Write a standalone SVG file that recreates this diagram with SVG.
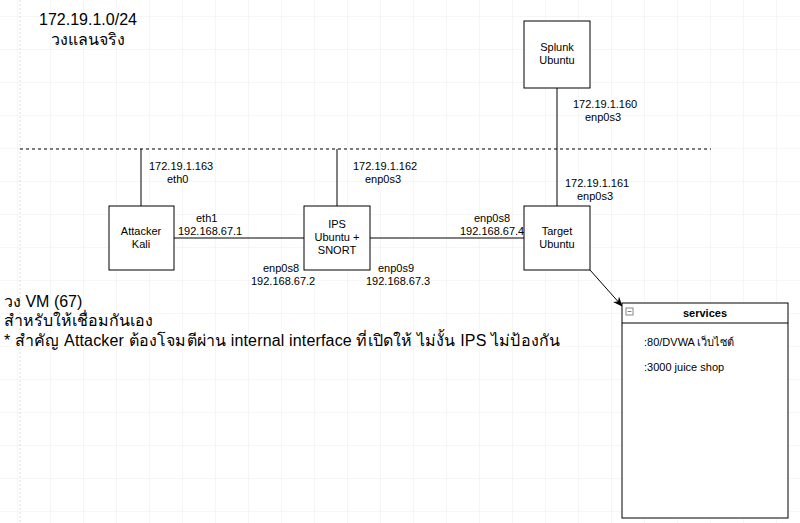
<svg xmlns="http://www.w3.org/2000/svg" width="800" height="523" viewBox="0 0 800 523">
<defs>
<pattern id="g" width="33" height="33" patternUnits="userSpaceOnUse" x="18" y="17">
<path d="M33 0V33M0 33H33" fill="none" stroke="#ececec" stroke-width="1"/>
</pattern>
<marker id="a" markerWidth="10" markerHeight="10" refX="9" refY="5" orient="auto" markerUnits="userSpaceOnUse">
<path d="M0 1L10 5L0 9L3 5Z" fill="#000"/>
</marker>
</defs>
<style>
.n{fill:#fff;stroke:#000;stroke-width:1}
.t{font-family:"Liberation Sans","DejaVu Sans","Noto Sans",sans-serif;font-size:11px;fill:#000}
.c{text-anchor:middle}
.b{font-family:"Liberation Sans","DejaVu Sans","Noto Sans",sans-serif;font-size:16px;fill:#000}
.l{stroke:#000;stroke-width:1;fill:none}
</style>
<rect width="800" height="523" fill="#fff"/>
<rect width="800" height="523" fill="url(#g)"/>
<line x1="20" y1="0" x2="20" y2="523" stroke="#ddd" stroke-dasharray="2 2"/>
<line x1="20" y1="149" x2="711" y2="149" stroke="#000" stroke-dasharray="3 3"/>
<text class="b c" x="88" y="25">172.19.1.0/24</text>
<text class="b c" x="88" y="45">วงแลนจริง</text>
<text class="b" x="4" y="307">วง VM (67)</text>
<text class="b" x="4" y="326">สำหรับให้เชื่อมกันเอง</text>
<text class="b" x="4" y="346" textLength="556">* สำคัญ Attacker ต้องโจมตีผ่าน internal interface ที่เปิดให้ ไม่งั้น IPS ไม่ป้องกัน</text>
<g id="connectors">
<line class="l" x1="141" y1="149" x2="141" y2="206"/>
<line class="l" x1="337" y1="149" x2="337" y2="206"/>
<line class="l" x1="557" y1="88" x2="557" y2="206"/>
<line class="l" x1="174" y1="238" x2="304" y2="238"/>
<line class="l" x1="370" y1="238" x2="524" y2="238"/>
<line class="l" x1="590" y1="270" x2="622" y2="306" marker-end="url(#a)"/>
</g>
<g class="t">
<text x="149" y="170">172.19.1.163</text><text x="167" y="183">eth0</text>
<text x="353" y="170">172.19.1.162</text><text x="365" y="183">enp0s3</text>
<text x="573" y="108">172.19.1.160</text><text x="585" y="121">enp0s3</text>
<text x="565" y="187">172.19.1.161</text><text x="577" y="200">enp0s3</text>
<text x="196" y="222">eth1</text><text x="178" y="235">192.168.67.1</text>
<text x="474" y="222">enp0s8</text><text x="460" y="235">192.168.67.4</text>
<text x="263" y="272">enp0s8</text><text x="251" y="285">192.168.67.2</text>
<text x="378" y="272">enp0s9</text><text x="366" y="285">192.168.67.3</text>
</g>
<g id="attacker"><rect class="n" x="109" y="206" width="65" height="64"/>
<text class="t c" x="141" y="235">Attacker</text><text class="t c" x="141" y="248">Kali</text></g>
<g id="ips"><rect class="n" x="304" y="206" width="66" height="64"/>
<text class="t c" x="337" y="228">IPS</text><text class="t c" x="337" y="241">Ubuntu +</text><text class="t c" x="337" y="254">SNORT</text></g>
<g id="target"><rect class="n" x="524" y="206" width="66" height="64"/>
<text class="t c" x="557" y="235">Target</text><text class="t c" x="557" y="248">Ubuntu</text></g>
<g id="splunk"><rect class="n" x="524" y="21" width="66" height="67"/>
<text class="t c" x="557" y="51">Splunk</text><text class="t c" x="557" y="64">Ubuntu</text></g>
<g id="services">
<rect class="n" x="622" y="303" width="166" height="215"/>
<line class="l" x1="622" y1="323" x2="788" y2="323"/>
<rect x="626" y="308" width="7" height="7" fill="#fff" stroke="#888"/>
<line x1="627.5" y1="311.5" x2="631.5" y2="311.5" stroke="#888"/>
<text class="t c" x="705" y="317" font-weight="bold">services</text>
<text class="t" x="644" y="346">:80/DVWA เว็บไซต์</text>
<text class="t" x="644" y="371">:3000 juice shop</text>
</g>
</svg>
